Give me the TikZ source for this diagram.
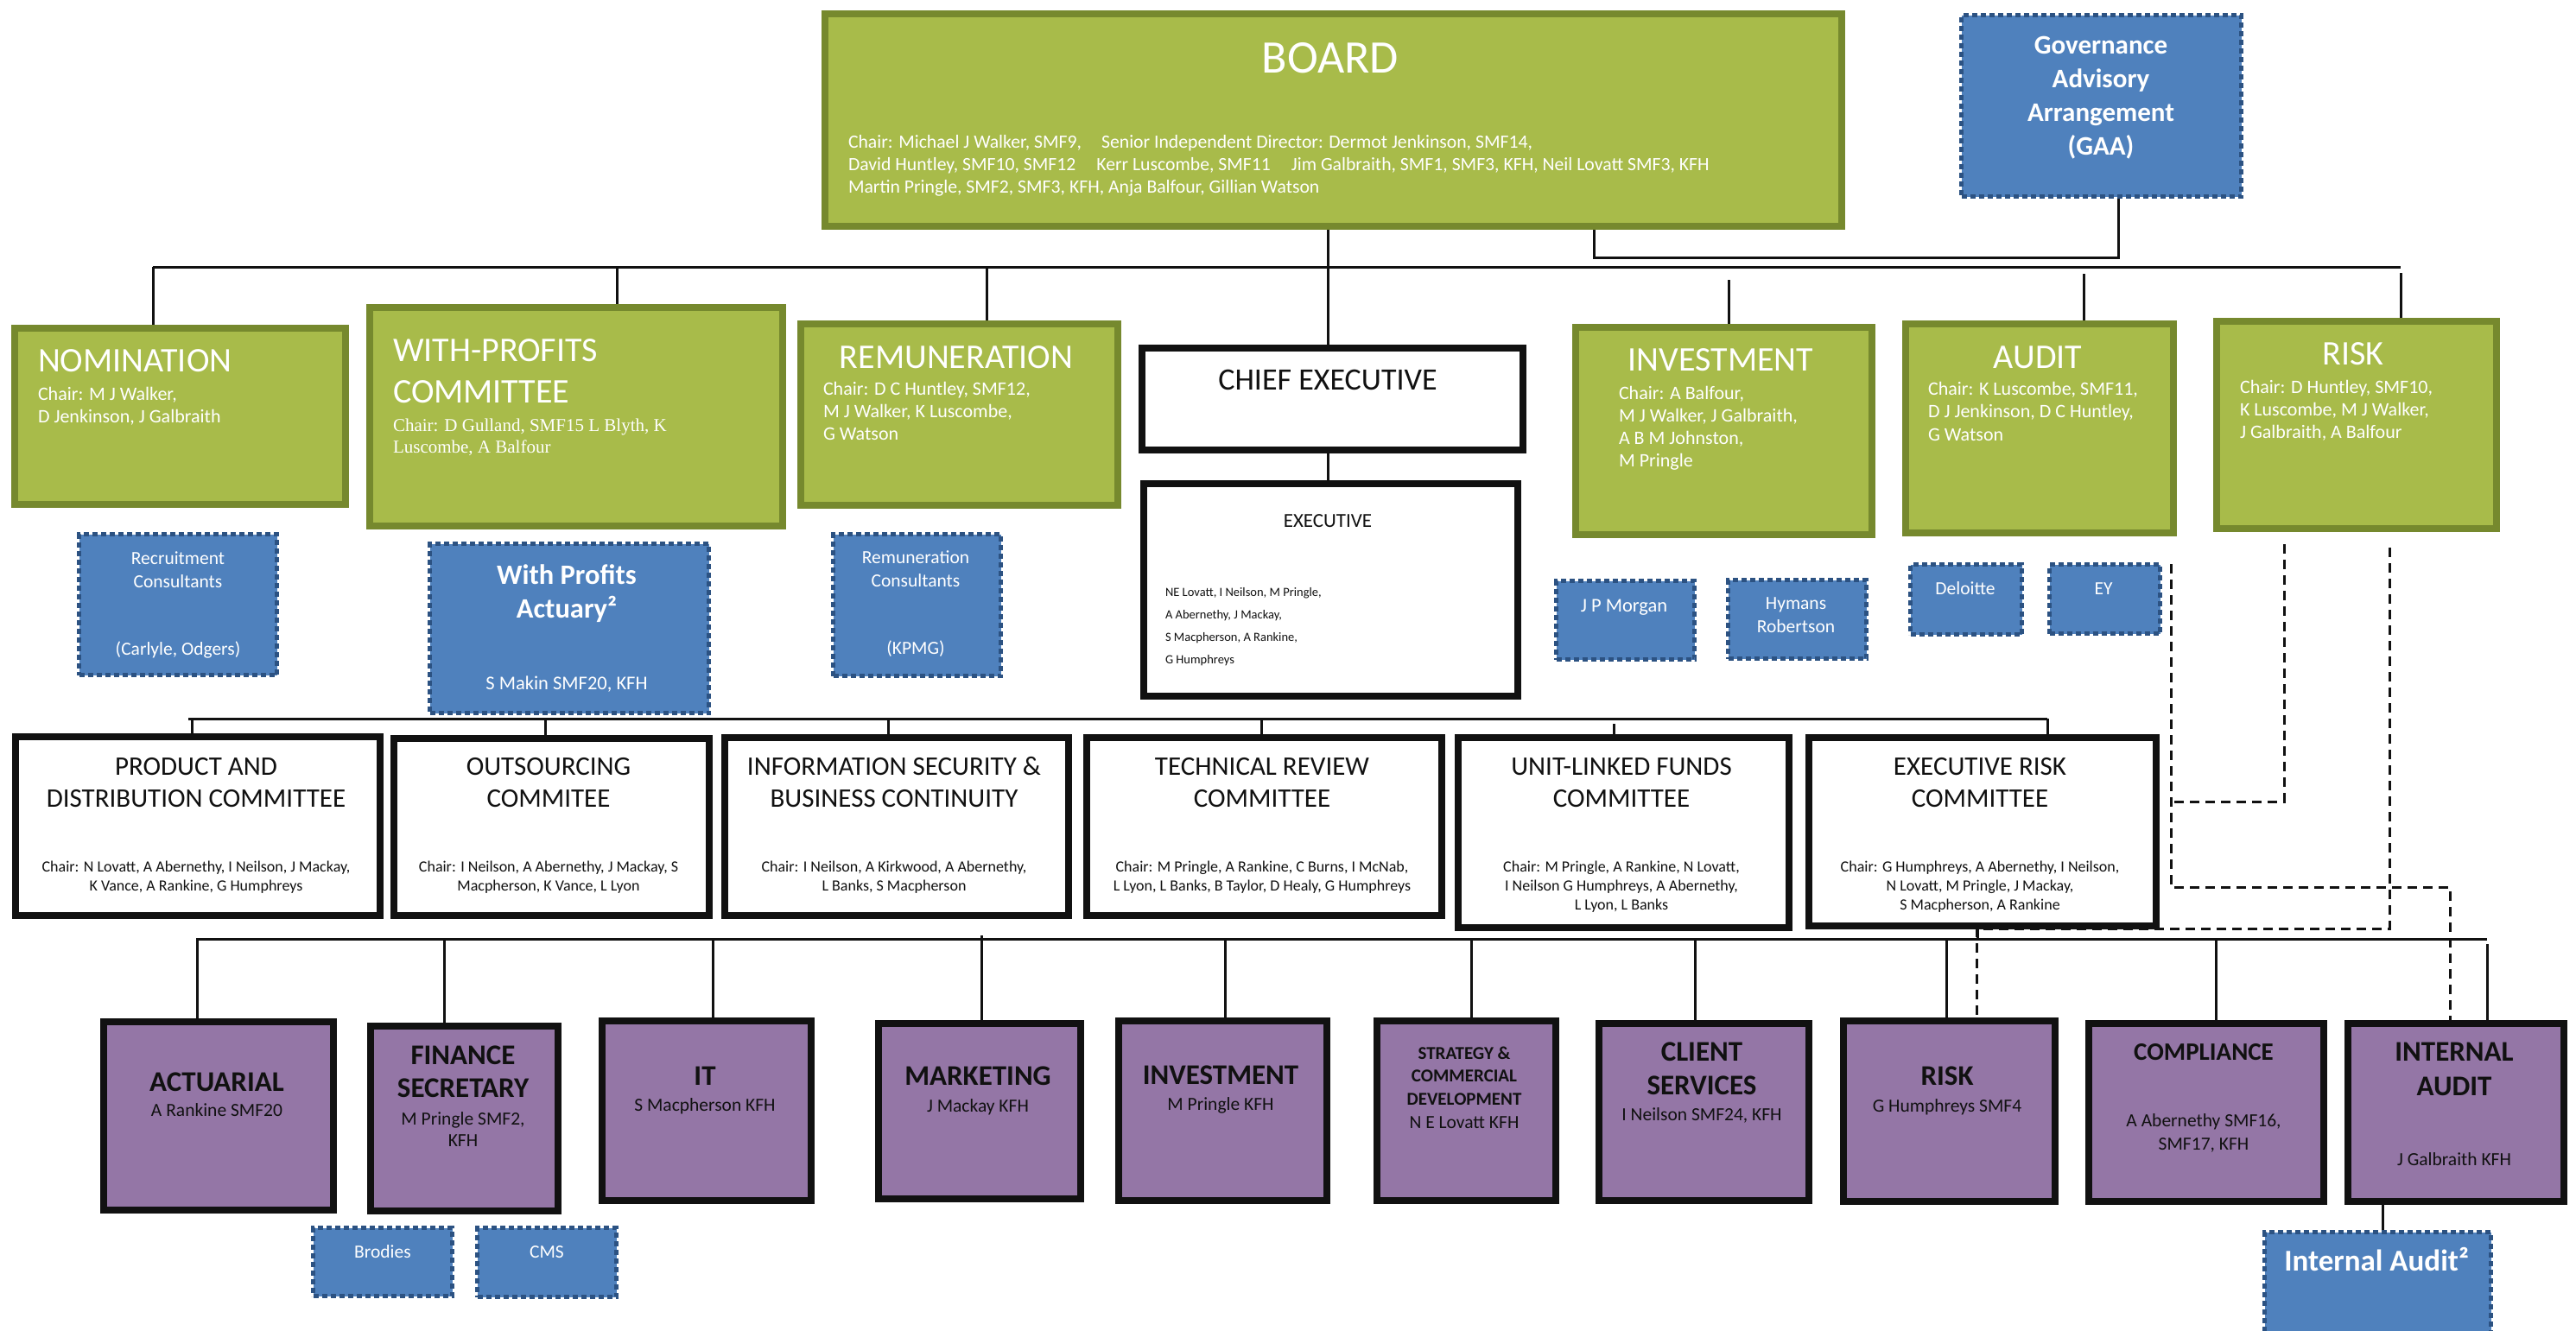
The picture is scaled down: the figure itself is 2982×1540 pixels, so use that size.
\documentclass[tikz,border=0pt]{standalone}
\usepackage{fontspec}
\setmainfont{Carlito}
\newfontfamily\wpserif{Liberation Serif}
\usetikzlibrary{calc}
\definecolor{oliveF}{RGB}{168,187,74}
\definecolor{oliveB}{RGB}{118,137,46}
\definecolor{blueF}{RGB}{79,129,189}
\definecolor{blueB}{RGB}{44,82,130}
\definecolor{purpleF}{RGB}{148,118,166}
\definecolor{ink}{RGB}{17,17,17}
\pgfdeclarelayer{links}
\pgfsetlayers{links,main}
% box by its outer corners: name, style, border width, x1, y1, x2, y2
\newcommand\mkbox[7]{%
  \node[#2, line width=#3pt, minimum width={#6-#4-#3}, minimum height={#7-#5-#3}]
    (#1) at ({(#4+#6)/2},{(#5+#7)/2}) {};}
% stacked text lines: name, style, x, first baseline, line step, list of lines
\newcommand\txtlines[6]{%
  \foreach \tline [count=\k] in {#6} {%
    \node[txt, #2] (#1-\k) at (#3,{#4+(\k-1)*#5}) {\tline};}}
\begin{document}
\begin{tikzpicture}[x=1pt,y=-1pt,
  txt/.style={inner sep=0pt, outer sep=0pt},
  greenbox/.style={draw=oliveB, fill=oliveF, inner sep=0pt, outer sep=0pt},
  blackbox/.style={draw=ink, fill=white, inner sep=0pt, outer sep=0pt},
  purplebox/.style={draw=ink, fill=purpleF, inner sep=0pt, outer sep=0pt},
  bluebox/.style={draw=blueB, fill=blueF, dash pattern=on 6pt off 4pt, inner sep=0pt, outer sep=0pt},
  link/.style={draw=ink, line width=3pt},
  dlink/.style={draw=ink, line width=3pt, dash pattern=on 11pt off 7pt},
  wl/.style={anchor=base west, text=white},
  wc/.style={anchor=base, text=white},
  bc/.style={anchor=base, text=ink},
  bl/.style={anchor=base west, text=ink},
  fBoard/.style={font=\fontsize{54}{60}\selectfont},
  fBoardC/.style={font=\fontsize{21.7}{26}\selectfont},
  fTitle/.style={font=\fontsize{40}{44}\selectfont},
  fChair/.style={font=\fontsize{22}{26}\selectfont},
  fSerif/.style={font=\wpserif\fontsize{21}{26}\selectfont},
  fGaa/.style={font=\bfseries\fontsize{31}{39}\selectfont},
  fWpa/.style={font=\bfseries\fontsize{32.5}{39}\selectfont},
  fCons/.style={font=\fontsize{21.5}{26}\selectfont},
  fCeo/.style={font=\fontsize{36}{40}\selectfont},
  fExec/.style={font=\fontsize{23}{26}\selectfont},
  fMem/.style={font=\fontsize{14.5}{18}\selectfont},
  fMid/.style={font=\fontsize{31}{37}\selectfont},
  fMidC/.style={font=\fontsize{18}{22}\selectfont},
  fPur/.style={font=\bfseries\fontsize{33}{38}\selectfont},
  fPurS/.style={font=\fontsize{21.5}{26}\selectfont},
  fStrat/.style={font=\bfseries\fontsize{21}{26}\selectfont},
  fIA/.style={font=\bfseries\fontsize{35}{40}\selectfont}
]
\useasboundingbox (0,0) rectangle (2982,1540);
\clip (0,0) rectangle (2982,1540);

% ---------- board level ----------
\mkbox{board}{greenbox}{8}{951}{12}{2136}{266}
\mkbox{gaa}{bluebox}{5}{2268}{15}{2597}{230}

\node[txt, wc, fBoard] (board-t) at (1540,84) {BOARD};
\txtlines{board-c}{wl, fBoardC}{982}{171}{26}{{Chair: Michael J Walker, SMF9,\hspace{23pt}Senior Independent Director: Dermot Jenkinson, SMF14,},{David Huntley, SMF10, SMF12\hspace{24pt}Kerr Luscombe, SMF11\hspace{24pt}Jim Galbraith, SMF1, SMF3, KFH, Neil Lovatt SMF3, KFH},{Martin Pringle, SMF2, SMF3, KFH, Anja Balfour, Gillian Watson}}
\txtlines{gaa-t}{wc, fGaa}{2432}{62}{39.3}{Governance,Advisory,Arrangement,(GAA)}

% ---------- board committees ----------
\mkbox{nom}{greenbox}{8}{13}{376}{404}{588}
\mkbox{wp}{greenbox}{8}{424}{352}{910}{613}
\mkbox{rem}{greenbox}{8}{923}{371}{1298}{589}
\mkbox{ceo}{blackbox}{8}{1318}{399}{1767}{525}
\mkbox{exec}{blackbox}{8}{1320}{556}{1761}{810}
\mkbox{inv}{greenbox}{8}{1820}{375}{2171}{623}
\mkbox{aud}{greenbox}{8}{2202}{371}{2520}{621}
\mkbox{risk}{greenbox}{8}{2562}{368}{2894}{616}

\node[txt, wl, fTitle] (nom-t) at (44,430) {NOMINATION};
\txtlines{nom-c}{wl, fChair}{44}{463}{26}{{Chair: M J Walker,},{D Jenkinson, J Galbraith}}

\txtlines{wp-t}{wl, fTitle}{455}{418}{48}{WITH-PROFITS,COMMITTEE}
\txtlines{wp-c}{wl, fSerif}{455}{499}{25.5}{{Chair: D Gulland, SMF15 L Blyth, K},{Luscombe, A Balfour}}

\node[txt, wc, fTitle] (rem-t) at (1107,426) {REMUNERATION};
\txtlines{rem-c}{wl, fChair}{953}{457}{26}{{Chair: D C Huntley, SMF12,},{M J Walker, K Luscombe,},{G Watson}}

\node[txt, bc, fCeo] (ceo-t) at (1537,451) {CHIEF EXECUTIVE};
\node[txt, bc, fExec] (exec-t) at (1537,610) {EXECUTIVE};
\txtlines{exec-m}{bl, fMem}{1349}{690}{26.3}{{NE Lovatt, I Neilson, M Pringle,},{A Abernethy, J Mackay,},{S Macpherson, A Rankine,},{G Humphreys}}

\node[txt, wc, fTitle] (inv-t) at (1992,429) {INVESTMENT};
\txtlines{inv-c}{wl, fChair}{1874}{462}{26.3}{{Chair: A Balfour,},{M J Walker, J Galbraith,},{A B M Johnston,},{M Pringle}}

\node[txt, wc, fTitle] (aud-t) at (2359,426) {AUDIT};
\txtlines{aud-c}{wl, fChair}{2232}{457}{26.5}{{Chair: K Luscombe, SMF11,},{D J Jenkinson, D C Huntley,},{G Watson}}

\node[txt, wc, fTitle] (risk-t) at (2724,422) {RISK};
\txtlines{risk-c}{wl, fChair}{2593}{455}{26}{{Chair: D Huntley, SMF10,},{K Luscombe, M J Walker,},{J Galbraith, A Balfour}}

% ---------- advisers ----------
\mkbox{recr}{bluebox}{5}{89}{616}{323}{784}
\mkbox{wpa}{bluebox}{5}{495}{627}{823}{828}
\mkbox{remc}{bluebox}{5}{962}{616}{1161}{785}
\mkbox{jpm}{bluebox}{5}{1799}{670}{1964}{766}
\mkbox{hym}{bluebox}{5}{1998}{669}{2163}{765}
\mkbox{del}{bluebox}{5}{2209}{651}{2343}{737}
\mkbox{ey}{bluebox}{5}{2370}{651}{2503}{736}

\txtlines{recr-t}{wc, fCons}{206}{653}{27}{Recruitment,Consultants}
\node[txt, wc, fCons] (recr-f) at (206,758) {(Carlyle, Odgers)};
\txtlines{wpa-t}{wc, fWpa}{656}{676}{39}{With Profits,Actuary²}
\node[txt, wc, font=\fontsize{22.5}{26}\selectfont] (wpa-n) at (656,798) {S Makin SMF20, KFH};
\txtlines{remc-t}{wc, fCons}{1060}{652}{27}{Remuneration,Consultants}
\node[txt, wc, fCons] (remc-f) at (1060,757) {(KPMG)};
\node[txt, wc, font=\fontsize{22.5}{26}\selectfont] (jpm-t) at (1880,708) {J P Morgan};
\txtlines{hym-t}{wc, fCons}{2079}{705}{27}{Hymans,Robertson}
\node[txt, wc, fCons] (del-t) at (2275,688) {Deloitte};
\node[txt, wc, fCons] (ey-t) at (2435,688) {EY};

% ---------- executive committees ----------
\mkbox{pd}{blackbox}{8}{14}{849}{444}{1064}
\mkbox{out}{blackbox}{8}{452}{851}{825}{1064}
\mkbox{info}{blackbox}{8}{835}{850}{1241}{1064}
\mkbox{tech}{blackbox}{8}{1254}{850}{1673}{1064}
\mkbox{ul}{blackbox}{8}{1684}{850}{2075}{1078}
\mkbox{er}{blackbox}{8}{2090}{850}{2500}{1076}

\txtlines{pd-t}{bc, fMid}{227}{897}{37}{PRODUCT AND,DISTRIBUTION COMMITTEE}
\txtlines{pd-c}{bc, fMidC}{227}{1009}{22}{{Chair: N Lovatt, A Abernethy, I Neilson, J Mackay,},{K Vance, A Rankine, G Humphreys}}
\txtlines{out-t}{bc, fMid}{635}{897}{37}{OUTSOURCING,COMMITEE}
\txtlines{out-c}{bc, fMidC}{635}{1009}{22}{{Chair: I Neilson, A Abernethy, J Mackay, S},{Macpherson, K Vance, L Lyon}}
\txtlines{info-t}{bc, fMid}{1035}{897}{37}{INFORMATION SECURITY \&,BUSINESS CONTINUITY}
\txtlines{info-c}{bc, fMidC}{1035}{1009}{22}{{Chair: I Neilson, A Kirkwood, A Abernethy,},{L Banks, S Macpherson}}
\txtlines{tech-t}{bc, fMid}{1461}{897}{37}{TECHNICAL REVIEW,COMMITTEE}
\txtlines{tech-c}{bc, fMidC}{1461}{1009}{22}{{Chair: M Pringle, A Rankine, C Burns, I McNab,},{L Lyon, L Banks, B Taylor, D Healy, G Humphreys}}
\txtlines{ul-t}{bc, fMid}{1877}{897}{37}{UNIT-LINKED FUNDS,COMMITTEE}
\txtlines{ul-c}{bc, fMidC}{1877}{1009}{22}{{Chair: M Pringle, A Rankine, N Lovatt,},{I Neilson G Humphreys, A Abernethy,},{L Lyon, L Banks}}
\txtlines{er-t}{bc, fMid}{2292}{897}{37}{EXECUTIVE RISK,COMMITTEE}
\txtlines{er-c}{bc, fMidC}{2292}{1009}{22}{{Chair: G Humphreys, A Abernethy, I Neilson,},{N Lovatt, M Pringle, J Mackay,},{S Macpherson, A Rankine}}

% ---------- functions ----------
\mkbox{act}{purplebox}{8}{116}{1179}{390}{1405}
\mkbox{fin}{purplebox}{8}{425}{1184}{650}{1406}
\mkbox{it}{purplebox}{8}{693}{1178}{943}{1394}
\mkbox{mkt}{purplebox}{8}{1013}{1181}{1255}{1392}
\mkbox{inv2}{purplebox}{8}{1291}{1178}{1540}{1394}
\mkbox{strat}{purplebox}{8}{1590}{1178}{1805}{1394}
\mkbox{cs}{purplebox}{8}{1847}{1181}{2098}{1394}
\mkbox{risk2}{purplebox}{8}{2130}{1178}{2383}{1395}
\mkbox{comp}{purplebox}{8}{2414}{1181}{2694}{1395}
\mkbox{ia}{purplebox}{8}{2714}{1181}{2972}{1395}
\mkbox{brod}{bluebox}{5}{360}{1419}{526}{1503}
\mkbox{cms}{bluebox}{5}{550}{1419}{716}{1504}
\mkbox{iaext}{bluebox}{5}{2619}{1424}{2886}{1566}

\node[txt, bc, fPur] (act-t) at (251,1263) {ACTUARIAL};
\node[txt, bc, fPurS] (act-n) at (251,1292) {A Rankine SMF20};
\txtlines{fin-t}{bc, fPur}{536}{1232}{38}{FINANCE,SECRETARY}
\txtlines{fin-n}{bc, fPurS}{536}{1302}{25}{{M Pringle SMF2,},KFH}
\node[txt, bc, fPur] (it-t) at (816,1256) {IT};
\node[txt, bc, fPurS] (it-n) at (816,1286) {S Macpherson KFH};
\node[txt, bc, fPur] (mkt-t) at (1132,1256) {MARKETING};
\node[txt, bc, fPurS] (mkt-n) at (1132,1287) {J Mackay KFH};
\node[txt, bc, fPur] (inv2-t) at (1413,1255) {INVESTMENT};
\node[txt, bc, fPurS] (inv2-n) at (1413,1285) {M Pringle KFH};
\txtlines{strat-t}{bc, fStrat}{1695}{1226}{26.5}{STRATEGY \&,COMMERCIAL,DEVELOPMENT}
\node[txt, bc, fPurS] (strat-n) at (1695,1306) {N E Lovatt KFH};
\txtlines{cs-t}{bc, fPur}{1970}{1228}{39}{CLIENT,SERVICES}
\node[txt, bc, fPurS] (cs-n) at (1970,1297) {I Neilson SMF24, KFH};
\node[txt, bc, fPur] (risk2-t) at (2254,1256) {RISK};
\node[txt, bc, fPurS] (risk2-n) at (2254,1287) {G Humphreys SMF4};
\node[txt, bc, font=\bfseries\fontsize{29}{36}\selectfont] (comp-t) at (2551,1227) {COMPLIANCE};
\txtlines{comp-n}{bc, fPurS}{2551}{1304}{27}{{A Abernethy SMF16,},{SMF17, KFH}}
\txtlines{ia-t}{bc, fPur}{2841}{1228}{40}{INTERNAL,AUDIT}
\node[txt, bc, fPurS] (ia-n) at (2841,1349) {J Galbraith KFH};
\node[txt, wc, fCons] (brod-t) at (443,1456) {Brodies};
\node[txt, wc, fCons] (cms-t) at (633,1456) {CMS};
\node[txt, wc, fIA] (iaext-t) at (2751,1471) {Internal Audit²};

% ---------- connectors ----------
\begin{pgfonlayer}{links}
\fill[white] (0,0) rectangle (2982,1540);
% board bus
\coordinate (busT-w) at (177,309);
\coordinate (busT-e) at (2779,309);
\draw[link] (busT-w) -- (busT-e);
\draw[link] (busT-w) -- (busT-w |- nom.north);
\coordinate (dWP) at (714,309);
\draw[link] (dWP) -- (dWP |- wp.north);
\coordinate (dREM) at (1142,309);
\draw[link] (dREM) -- (dREM |- rem.north);
\coordinate (dCEO) at (1537,309);
\draw[link] (board.south -| dCEO) -- (ceo.north -| dCEO);
\draw[link] (ceo.south -| dCEO) -- (exec.north -| dCEO);
\coordinate (dINV) at (2001,324);
\draw[link] (dINV) -- (dINV |- inv.north);
\coordinate (dAUD) at (2412,317);
\draw[link] (dAUD) -- (dAUD |- aud.north);
\coordinate (dRISK) at (2779,316);
\draw[link] (dRISK) -- (dRISK |- risk.north);
% governance advisory bracket
\coordinate (gaaK) at (2452,298);
\coordinate (brdK) at (1845,298);
\draw[link] (gaa.south -| gaaK) -- (gaaK) -- (brdK) -- (board.south -| brdK);

% executive committees bus
\coordinate (busM-w) at (218,832);
\coordinate (busM-e) at (2370,832);
\draw[link] (busM-w) -- (busM-e);
\coordinate (dPD) at (222,832);
\draw[link] (dPD) -- (dPD |- pd.north);
\coordinate (dOUT) at (631,832);
\draw[link] (dOUT) -- (dOUT |- out.north);
\coordinate (dINFO) at (1028,832);
\draw[link] (dINFO) -- (dINFO |- info.north);
\coordinate (dTECH) at (1460,832);
\draw[link] (dTECH) -- (dTECH |- tech.north);
\coordinate (dUL) at (1868,838);
\draw[link] (dUL) -- (dUL |- ul.north);
\draw[link] (busM-e) -- (busM-e |- er.north);

% functions bus
\coordinate (busL-w) at (227,1087);
\coordinate (busL-e) at (2879,1087);
\draw[link] (busL-w) -- (busL-e);
\coordinate (dACT) at (228,1087);
\draw[link] (dACT) -- (dACT |- act.north);
\coordinate (dFIN) at (514,1087);
\draw[link] (dFIN) -- (dFIN |- fin.north);
\coordinate (dIT) at (825,1087);
\draw[link] (dIT) -- (dIT |- it.north);
\coordinate (dMKT) at (1136,1083);
\draw[link] (dMKT) -- (dMKT |- mkt.north);
\coordinate (dINV2) at (1418,1087);
\draw[link] (dINV2) -- (dINV2 |- inv2.north);
\coordinate (dSTR) at (1703,1087);
\draw[link] (dSTR) -- (dSTR |- strat.north);
\coordinate (dCS) at (1962,1087);
\draw[link] (dCS) -- (dCS |- cs.north);
\coordinate (dRSK) at (2253,1087);
\draw[link] (dRSK) -- (dRSK |- risk2.north);
\coordinate (dCMP) at (2565,1087);
\draw[link] (dCMP) -- (dCMP |- comp.north);
\coordinate (dIA) at (2879,1093);
\draw[link] (dIA) -- (dIA |- ia.north);
\coordinate (dER) at (2289,1087);
\draw[link] (er.south -| dER) -- (dER);
\coordinate (dIAX) at (2758,1400);
\draw[link] (ia.south -| dIAX) -- (iaext.north -| dIAX);

% dashed reporting lines
\coordinate (audK1) at (2513,653);
\coordinate (audK2) at (2513,1027);
\coordinate (audK3) at (2836,1027);
\draw[dlink] (audK1) -- (audK2) -- (audK3) -- (audK3 |- ia.north);
\coordinate (rkA) at (2644,630);
\coordinate (rkB) at (2644,928);
\coordinate (rkC) at (2513,928);
\draw[dlink] (rkA) -- (rkB) -- (rkC);
\coordinate (rkD) at (2766,634);
\coordinate (rkE) at (2766,1075);
\coordinate (rkF) at (2288,1075);
\draw[dlink] (rkD) -- (rkE) -- (rkF) -- (rkF |- risk2.north);
\end{pgfonlayer}
\end{tikzpicture}
\end{document}
